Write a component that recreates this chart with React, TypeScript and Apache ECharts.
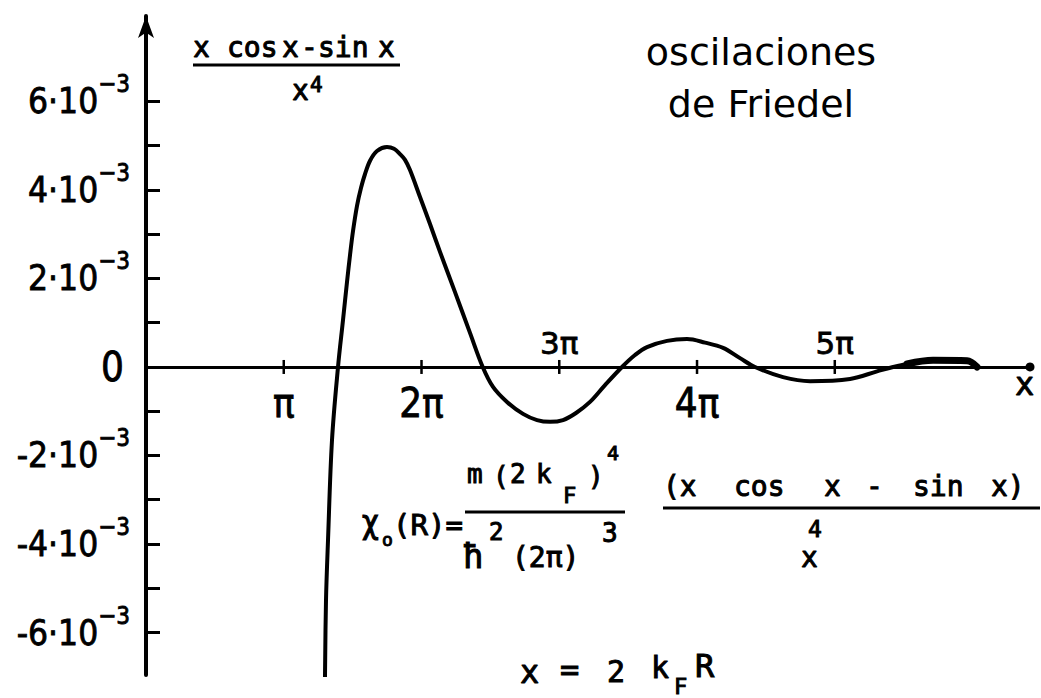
import React, { useEffect, useRef } from 'react';
import * as echarts from 'echarts';

// Sampled curve (x cos x − sin x)/x⁴ : x in radians, value in units of 10⁻³
const curveX = [
  4.082, 4.105, 4.151, 4.242, 4.379, 4.493, 4.584, 4.653, 4.721, 4.812, 4.904, 4.995, 5.109, 5.268,
  5.496, 5.656, 5.793, 5.907, 6.021, 6.249, 6.477, 6.705, 7.047, 7.389, 7.679,
  7.914, 8.233, 8.598, 8.918, 9.214, 9.511, 9.807, 10.126, 10.468, 10.856,
  11.152, 11.426, 11.883, 12.339, 12.749, 13.16, 13.547, 13.889,
  14.528, 15.144, 16.056, 16.672, 17.037, 17.356, 17.949, 18.725, 18.953,
];
const curveY = [
  -7.0, -5.27, -3.91, -1.65, 0, 1.06, 1.92, 2.53, 3.07, 3.64, 4.05, 4.36, 4.66, 4.88,
  4.97, 4.93, 4.81, 4.68, 4.45, 3.84, 3.23, 2.6, 1.69, 0.77, 0,
  -0.45, -0.79, -1.06, -1.2, -1.24, -1.2, -1.04, -0.79, -0.41, 0,
  0.27, 0.45, 0.59, 0.63, 0.55, 0.43, 0.2, 0,
  -0.23, -0.32, -0.27, -0.1, 0, 0.07, 0.15, 0.14, 0,
];
// index where the heavily inked tail of the curve begins
const TAIL_START = 48;

// x axis: ticks at multiples of π, labels alternate below / above the axis
const piTicks = [1, 2, 3, 4, 5];
const piLabelsAbove = [3, 5];

// y axis: ticks every 10⁻³, labels every 2·10⁻³ (values in units of 10⁻³)
const yTicks = [-6, -5, -4, -3, -2, -1, 0, 1, 2, 3, 4, 5, 6];
const yLabels = [-6, -4, -2, 0, 2, 4, 6];

const X_MIN = 0;
const X_MAX = 20.16;
const Y_MIN = -6.96;
const Y_MAX = 7.93;
const UNIT = 1e-3;

const SANS = "'DejaVu Sans Condensed', 'DejaVu Sans', sans-serif";
const WIDE = "'DejaVu Sans', sans-serif";
const MONO = "'DejaVu Sans Mono', monospace";
const INK = '#000';

type Piece = [string, number, number, number, string?];

// hand-lettered formula fragments: [text, left, baseline, fontSize, family]
const formulaPieces: Piece[] = [
  // top-left caption
  ['x', 193, 57, 28], ['cos', 227, 57, 28], ['x', 282, 57, 28], ['-', 301, 57, 28],
  ['sin', 318, 57, 28], ['x', 378, 57, 28], ['x', 292, 100, 28], ['4', 310, 92, 21],
  // χ₀(R) = ...
  ['χ', 362, 533, 32, SANS], ['o', 382, 546, 18], ['(R)=', 393, 535, 29],
  ['m', 467, 483, 26], ['(', 493, 485, 26], ['2', 510, 483, 26], ['k', 536, 483, 26],
  ['F', 563, 503, 22], [')', 588, 485, 26], ['4', 607, 460, 20],
  ['ħ', 463, 568, 34], ['2', 489, 540, 24], ['(2π)', 512, 567, 28], ['3', 602, 542, 26],
  ['(x', 663, 496, 28], ['cos', 734, 496, 28], ['x', 824, 496, 28], ['-', 866, 496, 28],
  ['sin', 913, 496, 28], ['x)', 991, 496, 28],
  ['4', 808, 537, 23], ['x', 801, 567, 28],
  // x = 2 k_F R
  ['x', 520, 683, 32], ['=', 560, 681, 32], ['2', 607, 682, 30], ['k', 651, 678, 30],
  ['F', 674, 694, 22], ['R', 695, 677, 32],
  // axis name
  ['x', 1015, 395, 32],
];

const fractionBars = [
  [193, 65, 400, 65],
  [465, 512, 625, 512],
  [663, 508, 1040, 508],
];

const piText = (v: number) => {
  const k = Math.round(v / Math.PI);
  return k === 1 ? 'π' : `${k}π`;
};

const yText = (v: number) => {
  const n = Math.round(v / UNIT);
  if (n === 0) return '{z|0}';
  return `{m|${n < 0 ? '-' : ''}${Math.abs(n)}·10}{s|−3}`;
};

function buildOption() {
  const points = curveX.map((x, i) => [x, curveY[i] * UNIT]);
  const labelInk = { color: INK, opacity: 1, textBorderColor: INK, textBorderWidth: 0.8 };

  // crossing tick marks at kπ with labels alternately under and over the axis
  const piMarks = piTicks.map((k) => {
    const above = piLabelsAbove.includes(k);
    return {
      value: [k * Math.PI, 0],
      label: above
        ? { position: 'top', distance: 1, fontSize: 31, lineHeight: 31, fontFamily: WIDE, ...labelInk }
        : { position: 'bottom', distance: 9, fontSize: 40, lineHeight: 40, fontFamily: SANS, ...labelInk },
    };
  });

  const graphics: any[] = formulaPieces.map(([text, left, base, size, family]) => ({
    type: 'text',
    x: left,
    y: base - 0.35 * size,
    silent: true,
    style: {
      text,
      fontSize: size,
      fontFamily: family || MONO,
      fill: INK,
      stroke: INK,
      lineWidth: 1,
      align: 'left',
      verticalAlign: 'middle',
    },
  }));

  fractionBars.forEach(([x1, y1, x2, y2]) => {
    graphics.push({
      type: 'line',
      silent: true,
      shape: { x1, y1, x2, y2 },
      style: { stroke: INK, lineWidth: 3 },
    });
  });

  ['oscilaciones', 'de Friedel'].forEach((line, i) => {
    graphics.push({
      type: 'text',
      x: 761,
      y: 65 + i * 52 - 0.35 * 38,
      silent: true,
      style: {
        text: line,
        fontSize: 38,
        fontFamily: WIDE,
        fill: INK,
        align: 'center',
        verticalAlign: 'middle',
      },
    });
  });

  return {
    animation: false,
    backgroundColor: '#fff',
    grid: { left: 146, right: 11, top: 16, bottom: 23, containLabel: false, outerBoundsMode: 'none' },
    xAxis: {
      type: 'value',
      min: X_MIN,
      max: X_MAX,
      axisLine: {
        onZero: true,
        lineStyle: { color: INK, width: 3 },
        symbol: ['none', 'circle'],
        symbolSize: [9, 9],
      },
      axisTick: { show: false },
      axisLabel: { show: false },
      splitLine: { show: false },
    },
    yAxis: {
      type: 'value',
      min: Y_MIN * UNIT,
      max: Y_MAX * UNIT,
      axisLine: {
        lineStyle: { color: INK, width: 4 },
        symbol: ['none', 'arrow'],
        symbolSize: [12, 22],
      },
      axisTick: {
        inside: true,
        length: 14,
        customValues: yTicks.map((v) => v * UNIT),
        lineStyle: { color: INK, width: 3 },
      },
      axisLabel: {
        customValues: yLabels.map((v) => v * UNIT),
        formatter: yText,
        margin: 16,
        ...labelInk,
        rich: {
          m: { fontSize: 35, fontFamily: SANS, lineHeight: 58, verticalAlign: 'middle', ...labelInk },
          s: { fontSize: 24, fontFamily: SANS, lineHeight: 24, verticalAlign: 'top', ...labelInk },
          z: { fontSize: 40, fontFamily: SANS, lineHeight: 58, padding: [0, 6, 0, 0], ...labelInk },
        },
      },
      splitLine: { show: false },
    },
    graphic: graphics,
    series: [
      {
        type: 'line',
        data: points,
        smooth: 0.35,
        symbol: 'none',
        clip: true,
        lineStyle: { color: INK, width: 4, cap: 'round', join: 'round' },
        z: 3,
      },
      {
        type: 'line',
        data: points.slice(TAIL_START),
        smooth: 0.35,
        symbol: 'none',
        lineStyle: { color: INK, width: 7, cap: 'round', join: 'round' },
        z: 3,
      },
      {
        type: 'scatter',
        data: piMarks,
        symbol: 'rect',
        symbolSize: [2.5, 14],
        itemStyle: { color: INK, opacity: 1 },
        label: {
          show: true,
          formatter: (p: any) => piText(p.value[0]),
          ...labelInk,
        },
        z: 4,
      },
    ],
  };
}

export default function App() {
  const ref = useRef<HTMLDivElement>(null);
  useEffect(() => {
    const chart = echarts.init(ref.current!, null, { renderer: 'svg' });
    chart.setOption(buildOption() as any);
    return () => chart.dispose();
  }, []);
  return (
    <div
      ref={ref}
      style={{ position: 'fixed', left: 0, top: 0, width: 1041, height: 698, background: '#fff' }}
    />
  );
}
